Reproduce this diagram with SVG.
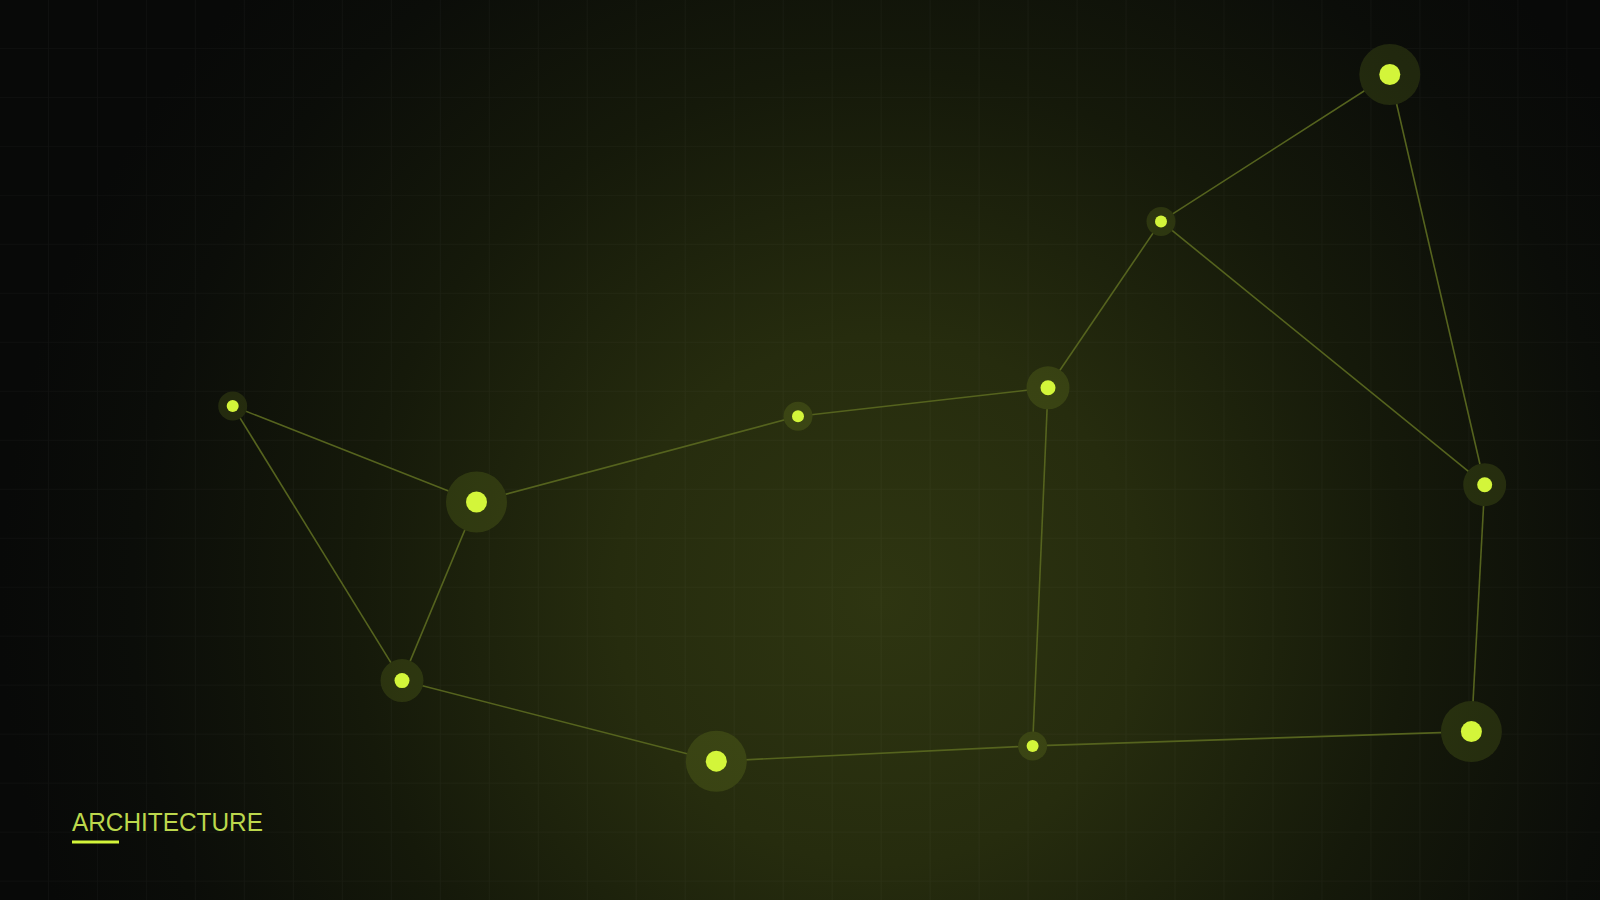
<svg xmlns="http://www.w3.org/2000/svg" width="1600" height="900" viewBox="0 0 1600 900">
<defs>
<radialGradient id="bg" cx="880" cy="600" r="880" gradientUnits="userSpaceOnUse">
<stop offset="0" stop-color="#2e3511"/>
<stop offset="0.3" stop-color="#262c0e"/>
<stop offset="0.6" stop-color="#15190a"/>
<stop offset="0.85" stop-color="#0b0d09"/>
<stop offset="1" stop-color="#080908"/>
</radialGradient>
<pattern id="grid" width="48.98" height="48.98" patternUnits="userSpaceOnUse">
<path d="M48.98 0V48.98M0 48.98H48.98" fill="none" stroke="#ffffff" stroke-opacity="0.03" stroke-width="1.5"/>
</pattern>
<style>
.edge{stroke:#55631e;stroke-width:1.6;fill:none}
.under{fill:url(#bg)}
.halo{fill:#c8f03c;fill-opacity:0.12}
.core{fill:#d3f53a}
.label{font-family:"Liberation Sans",Arial,sans-serif;font-size:25px;fill:#bcd84c}
</style>
</defs>
<rect width="1600" height="900" fill="url(#bg)"/>
<rect width="1600" height="900" fill="url(#grid)"/>
<g id="connectors">
<line class="edge" x1="232.7" y1="406.1" x2="476.5" y2="502"/>
<line class="edge" x1="232.7" y1="406.1" x2="402" y2="680.6"/>
<line class="edge" x1="476.5" y1="502" x2="402" y2="680.6"/>
<line class="edge" x1="476.5" y1="502" x2="798" y2="416.3"/>
<line class="edge" x1="798" y1="416.3" x2="1048" y2="387.8"/>
<line class="edge" x1="1048" y1="387.8" x2="1161" y2="221.4"/>
<line class="edge" x1="1161" y1="221.4" x2="1389.8" y2="74.5"/>
<line class="edge" x1="1161" y1="221.4" x2="1484.7" y2="484.7"/>
<line class="edge" x1="1389.8" y1="74.5" x2="1484.7" y2="484.7"/>
<line class="edge" x1="1484.7" y1="484.7" x2="1471.4" y2="731.6"/>
<line class="edge" x1="1471.4" y1="731.6" x2="1032.6" y2="745.9"/>
<line class="edge" x1="1032.6" y1="745.9" x2="1048" y2="387.8"/>
<line class="edge" x1="1032.6" y1="745.9" x2="716.3" y2="761.2"/>
<line class="edge" x1="716.3" y1="761.2" x2="402" y2="680.6"/>
</g>
<g id="n1"><circle class="under" cx="232.7" cy="406.1" r="14.5"/><circle class="halo" cx="232.7" cy="406.1" r="14.5"/><circle class="core" cx="232.7" cy="406.1" r="6"/></g>
<g id="n2"><circle class="under" cx="476.5" cy="502" r="30.5"/><circle class="halo" cx="476.5" cy="502" r="30.5"/><circle class="core" cx="476.5" cy="502" r="10.5"/></g>
<g id="n3"><circle class="under" cx="402" cy="680.6" r="21.5"/><circle class="halo" cx="402" cy="680.6" r="21.5"/><circle class="core" cx="402" cy="680.6" r="7.5"/></g>
<g id="n4"><circle class="under" cx="798" cy="416.3" r="14.5"/><circle class="halo" cx="798" cy="416.3" r="14.5"/><circle class="core" cx="798" cy="416.3" r="6"/></g>
<g id="n5"><circle class="under" cx="1048" cy="387.8" r="21.5"/><circle class="halo" cx="1048" cy="387.8" r="21.5"/><circle class="core" cx="1048" cy="387.8" r="7.5"/></g>
<g id="n6"><circle class="under" cx="1161" cy="221.4" r="14.5"/><circle class="halo" cx="1161" cy="221.4" r="14.5"/><circle class="core" cx="1161" cy="221.4" r="6"/></g>
<g id="n7"><circle class="under" cx="1389.8" cy="74.5" r="30.5"/><circle class="halo" cx="1389.8" cy="74.5" r="30.5"/><circle class="core" cx="1389.8" cy="74.5" r="10.5"/></g>
<g id="n8"><circle class="under" cx="1484.7" cy="484.7" r="21.5"/><circle class="halo" cx="1484.7" cy="484.7" r="21.5"/><circle class="core" cx="1484.7" cy="484.7" r="7.5"/></g>
<g id="n9"><circle class="under" cx="1471.4" cy="731.6" r="30.5"/><circle class="halo" cx="1471.4" cy="731.6" r="30.5"/><circle class="core" cx="1471.4" cy="731.6" r="10.5"/></g>
<g id="n10"><circle class="under" cx="1032.6" cy="745.9" r="14.5"/><circle class="halo" cx="1032.6" cy="745.9" r="14.5"/><circle class="core" cx="1032.6" cy="745.9" r="6"/></g>
<g id="n11"><circle class="under" cx="716.3" cy="761.2" r="30.5"/><circle class="halo" cx="716.3" cy="761.2" r="30.5"/><circle class="core" cx="716.3" cy="761.2" r="10.5"/></g>
<g id="title">
<text class="label" x="72" y="831" textLength="191" lengthAdjust="spacingAndGlyphs">ARCHITECTURE</text>
<rect x="72" y="840.5" width="47" height="3" fill="#d3f53a"/>
</g>
</svg>
